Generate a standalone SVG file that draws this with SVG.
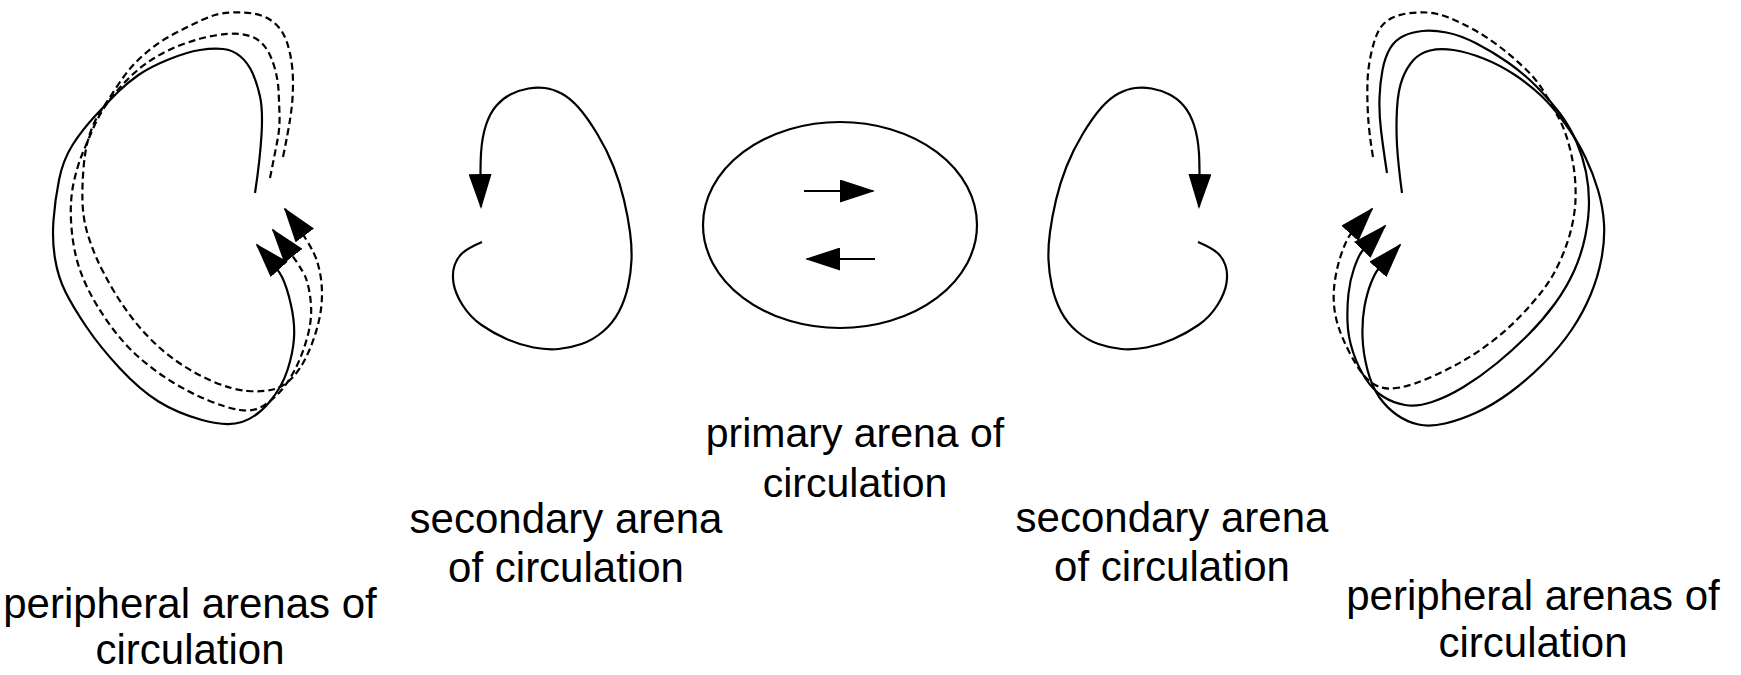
<svg xmlns="http://www.w3.org/2000/svg" width="1741" height="675" viewBox="0 0 1741 675">
<style>
.ln{fill:none;stroke:#000;stroke-width:2.2;stroke-linejoin:round}
.ds{stroke-dasharray:7 4}
.lbl{font-family:"Liberation Sans",Arial,sans-serif;font-size:42px;fill:#000;text-anchor:middle}
.pri{font-size:41px}
</style>
<defs>
<marker id="ah" viewBox="0 0 35 23" refX="33" refY="11.5" markerWidth="35" markerHeight="23" markerUnits="userSpaceOnUse" orient="auto">
<path d="M0,0 L35,11.5 L0,23 z" fill="#000"/>
</marker>
</defs>
<rect width="1741" height="675" fill="#fff"/>
<g id="connectors"></g>
<g id="peripheral-left">
<path class="ln" marker-end="url(#ah)" d="M255,193 Q260,160 261.5,135 Q263,110 260,96.5 Q257,83 252.5,73 Q248,63 240.5,56.5 Q233,50 223,49 Q213,48 200,50 Q187,52 168.5,59.5 Q150,67 138.5,75 Q127,83 118.5,91.5 Q110,100 96,115 Q82,130 72.5,145 Q63,160 59,180 Q55,200 53.5,220 Q52,240 55,258.5 Q58,277 65.5,292 Q73,307 86.5,327 Q100,347 120,368.5 Q140,390 158.5,401.5 Q177,413 202,420 Q227,427 242,422 Q257,417 269.5,402 Q282,387 287.5,370 Q293,353 294,338 Q295,323 291,305 Q287,287 282,277 Q277,267 257,245"/>
<path class="ln ds" marker-end="url(#ah)" d="M270,178 Q275,153 277.5,140 Q280,127 279.5,113.5 Q279,100 278.5,90 Q278,80 275,69 Q272,58 267.5,50.5 Q263,43 256.5,39 Q250,35 240,34 Q230,33 215,35.5 Q200,38 183.5,44 Q167,50 153.5,58.5 Q140,67 128.5,78.5 Q117,90 108.5,101.5 Q100,113 94,126.5 Q88,140 82.5,153.5 Q77,167 73.5,183.5 Q70,200 71,220 Q72,240 76,256.5 Q80,273 88.5,290 Q97,307 110,325 Q123,343 138,356.5 Q153,370 171.5,381.5 Q190,393 208.5,400.5 Q227,408 240,410 Q253,412 263,406 Q273,400 281.5,390 Q290,380 296.5,366.5 Q303,353 307.5,336.5 Q312,320 311,305 Q310,290 306,278.5 Q302,267 273,230"/>
<path class="ln ds" marker-end="url(#ah)" d="M283,157 Q288,133 290.5,116.5 Q293,100 293,83.5 Q293,67 290,53.5 Q287,40 282.5,32.5 Q278,25 270.5,20 Q263,15 253,13.5 Q243,12 230,12.5 Q217,13 202,20 Q187,27 172,35 Q157,43 143.5,55 Q130,67 120,82 Q110,97 101.5,110 Q93,123 89,136.5 Q85,150 83.5,168.5 Q82,187 82.5,202 Q83,217 86.5,230 Q90,243 96.5,258 Q103,273 115,293 Q127,313 142,330 Q157,347 175,360 Q193,373 213,381.5 Q233,390 248,391 Q263,392 273,389.5 Q283,387 291.5,378.5 Q300,370 306.5,356.5 Q313,343 317.5,326.5 Q322,310 322,293.5 Q322,277 317,261 Q312,245 285,209"/>
<text class="lbl" x="190" y="618">peripheral arenas of</text>
<text class="lbl" x="190" y="664">circulation</text>
</g>
<g id="secondary-left">
<path class="ln" marker-end="url(#ah)" d="M482,242 Q468,248 462.5,253 Q457,258 454.5,265.5 Q452,273 453.5,283 Q455,293 462.5,305 Q470,317 481.5,325 Q493,333 506.5,339 Q520,345 533.5,347.5 Q547,350 558.5,349 Q570,348 581.5,344 Q593,340 603,331.5 Q613,323 619,311.5 Q625,300 628,286.5 Q631,273 631.5,260 Q632,247 630,232 Q628,217 624,200 Q620,183 613.5,166.5 Q607,150 597,133.5 Q587,117 578.5,107.5 Q570,98 561.5,93.5 Q553,89 545,88 Q537,87 528.5,88.5 Q520,90 511.5,94 Q503,98 496.5,105.5 Q490,113 486,125 Q482,137 481,153.5 Q480,170 481,207"/>
<text class="lbl" x="566" y="533">secondary arena</text>
<text class="lbl" x="566" y="582">of circulation</text>
</g>
<g id="primary">
<ellipse class="ln" cx="840" cy="225" rx="137" ry="103"/>
<path class="ln" marker-end="url(#ah)" d="M804,191 L873,191"/>
<path class="ln" marker-end="url(#ah)" d="M875,259 L807,259"/>
<text class="lbl pri" x="855" y="447">primary arena of</text>
<text class="lbl pri" x="855" y="497">circulation</text>
</g>
<g id="secondary-right">
<path class="ln" marker-end="url(#ah)" transform="translate(1680,0) scale(-1,1)" d="M482,242 Q468,248 462.5,253 Q457,258 454.5,265.5 Q452,273 453.5,283 Q455,293 462.5,305 Q470,317 481.5,325 Q493,333 506.5,339 Q520,345 533.5,347.5 Q547,350 558.5,349 Q570,348 581.5,344 Q593,340 603,331.5 Q613,323 619,311.5 Q625,300 628,286.5 Q631,273 631.5,260 Q632,247 630,232 Q628,217 624,200 Q620,183 613.5,166.5 Q607,150 597,133.5 Q587,117 578.5,107.5 Q570,98 561.5,93.5 Q553,89 545,88 Q537,87 528.5,88.5 Q520,90 511.5,94 Q503,98 496.5,105.5 Q490,113 486,125 Q482,137 481,153.5 Q480,170 481,207"/>
<text class="lbl" x="1172" y="532">secondary arena</text>
<text class="lbl" x="1172" y="581">of circulation</text>
</g>
<g id="peripheral-right">
<path class="ln ds" marker-end="url(#ah)" d="M1373,157 Q1369,133 1368,115 Q1367,97 1367.5,82 Q1368,67 1371.5,52 Q1375,37 1379,30 Q1383,23 1390,19 Q1397,15 1407,13.5 Q1417,12 1427,12.5 Q1437,13 1448.5,17.5 Q1460,22 1473.5,29.5 Q1487,37 1500,47 Q1513,57 1525,68.5 Q1537,80 1545,93.5 Q1553,107 1559,118.5 Q1565,130 1569,145 Q1573,160 1574.5,173.5 Q1576,187 1575.5,200 Q1575,213 1571.5,228 Q1568,243 1560.5,260 Q1553,277 1543,290 Q1533,303 1520,316.5 Q1507,330 1492,341.5 Q1477,353 1462,361.5 Q1447,370 1430,377.5 Q1413,385 1400,387.5 Q1387,390 1378.5,386.5 Q1370,383 1363.5,375 Q1357,367 1350,353.5 Q1343,340 1339,328.5 Q1335,317 1334,305 Q1333,293 1335,280 Q1337,267 1341,255 Q1345,243 1349,236.5 Q1353,230 1372,209"/>
<path class="ln" marker-end="url(#ah)" d="M1387,173 Q1383,147 1381,130 Q1379,113 1379.5,98 Q1380,83 1382.5,70 Q1385,57 1390,48.5 Q1395,40 1403.5,36 Q1412,32 1422.5,31 Q1433,30 1446.5,32.5 Q1460,35 1476.5,43.5 Q1493,52 1508,62.5 Q1523,73 1536.5,86.5 Q1550,100 1560,113.5 Q1570,127 1576.5,142 Q1583,157 1586,172 Q1589,187 1589,202 Q1589,217 1585.5,235 Q1582,253 1574.5,270 Q1567,287 1555,303.5 Q1543,320 1528,335 Q1513,350 1496.5,363.5 Q1480,377 1463.5,387 Q1447,397 1432,402 Q1417,407 1405,405 Q1393,403 1383,396.5 Q1373,390 1365.5,378.5 Q1358,367 1353,352 Q1348,337 1347.5,322 Q1347,307 1348.5,293.5 Q1350,280 1354,268.5 Q1358,257 1361.5,252 Q1365,247 1385,226"/>
<path class="ln" marker-end="url(#ah)" d="M1402,193 Q1398,163 1397,145 Q1396,127 1397,108.5 Q1398,90 1402.5,78.5 Q1407,67 1413.5,60 Q1420,53 1430,50.5 Q1440,48 1453.5,50 Q1467,52 1483.5,58.5 Q1500,65 1515,75 Q1530,85 1541.5,96 Q1553,107 1565,123.5 Q1577,140 1585,156.5 Q1593,173 1598,190 Q1603,207 1604,223.5 Q1605,240 1601.5,258.5 Q1598,277 1590.5,295 Q1583,313 1571.5,330 Q1560,347 1543.5,363.5 Q1527,380 1510,392.5 Q1493,405 1476.5,412.5 Q1460,420 1445,423.5 Q1430,427 1418.5,424.5 Q1407,422 1397,415 Q1387,408 1379.5,397.5 Q1372,387 1367.5,370 Q1363,353 1362.5,336.5 Q1362,320 1364.5,306.5 Q1367,293 1371,283 Q1375,273 1378,269.5 Q1381,266 1400,245"/>
<text class="lbl" x="1533" y="610">peripheral arenas of</text>
<text class="lbl" x="1533" y="657">circulation</text>
</g>
</svg>
